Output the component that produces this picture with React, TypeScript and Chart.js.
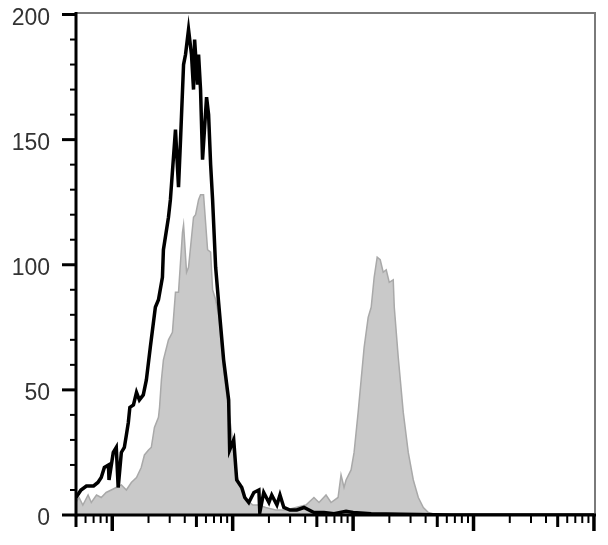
import React, { useEffect, useRef } from "react";
import { Chart, registerables } from "chart.js";

Chart.register(...registerables);

// Unstained / isotype (black outline) histogram: fluorescence intensity vs. count
const blackX = [5.0, 5.5, 6.1, 7.0, 7.6, 8.1, 8.6, 9.3, 9.4, 10.2, 10.8, 11.2, 11.9, 12.6, 13.1, 13.6, 14.0, 15.0, 15.9, 16.8, 18.1, 19.2, 20.7, 22.8, 24.2, 26.1, 26.6, 29.3, 30.4, 33.5, 35.5, 36.9, 39.1, 40.6, 43.0, 45.5, 47.3, 48.3, 51.1, 52.1, 54.1, 56.2, 60.7, 63.1, 65.6, 68.1, 72.2, 76.4, 84.1, 92.6, 94.4, 102, 108, 119, 126, 136, 150, 165, 168, 181, 200, 211, 233, 247, 266, 299, 341, 391, 473, 573, 695, 874, 1000, 1413, 2512, 6561, 104000];
const blackY = [7, 10, 11.6, 11.6, 13, 15, 19, 20, 14, 25, 27, 11, 25, 27, 32, 37, 43, 44, 49, 46, 48, 54, 67, 83, 86, 95, 106, 119, 126, 154, 131, 150, 180, 184, 194, 184, 170, 190, 172, 184, 170, 142, 167, 160, 140, 126, 99, 85, 62, 46, 26, 30, 14, 11, 7, 5, 9, 10, 1, 9, 5, 8, 4, 8, 3, 2, 2, 3, 1, 1, 0.5, 1.5, 1, 0.5, 0.3, 0, 0];

// Stained (gray filled) histogram
const grayX = [5.0, 5.3, 5.7, 6.3, 6.7, 7.4, 8.1, 8.9, 9.8, 10.8, 11.9, 13.1, 14.4, 15.9, 17.4, 18.5, 20.0, 21.1, 22.4, 24.2, 24.7, 25.6, 26.6, 29.3, 31.6, 33.5, 35.5, 38.3, 39.1, 41.4, 43.0, 47.3, 49.2, 52.1, 54.1, 57.3, 61.9, 65.6, 68.1, 72.2, 76.4, 84.1, 92.6, 102, 108, 114, 131, 147, 165, 188, 228, 277, 335, 406, 473, 521, 596, 656, 750, 794, 841, 874, 962, 1019, 1101, 1166, 1235, 1334, 1413, 1496, 1585, 1679, 1778, 1884, 1995, 2154, 2198, 2371, 2610, 2871, 3162, 3481, 3831, 4217, 4920, 104000];
const grayY = [5, 7, 4, 8, 5, 8, 7, 9, 10, 11, 12, 10, 13, 15, 19, 24, 26, 27, 35, 39, 43, 54, 62, 70, 73, 89, 89, 113, 116, 97, 99, 119, 120, 126, 128, 128, 106, 105, 90, 86, 80, 58, 42, 26, 16, 12, 6, 4, 4, 3, 2, 2, 3, 4, 7, 5, 8, 5, 7, 16, 11, 14, 18, 25, 41, 54, 67, 79, 83, 95, 103, 102, 97, 98, 93, 94, 83, 63, 41, 25, 14, 7, 3, 1, 0, 0];

// Axis ticks
const yMajorTicks = [0, 50, 100, 150, 200];
const yTickLabels = ["0", "50", "100", "150", "200"];
const yMinorTicks = [10, 20, 30, 40, 60, 70, 80, 90, 110, 120, 130, 140, 160, 170, 180, 190];
const xMajorTicks = [10, 100, 1000, 10000, 100000];
const xMidTicks = [5, 50, 500, 5000, 50000];
const xMinorTicks = [6, 7, 8, 9, 20, 30, 40, 60, 70, 80, 90, 200, 300, 400, 600, 700, 800, 900, 2000, 3000, 4000, 6000, 7000, 8000, 9000, 20000, 30000, 40000, 60000, 70000, 80000, 90000];
const xMin = 5;
const xMax = 104000;
const yMin = 0;
const yMax = 201;

const axesPlugin = {
  id: "flowAxes",
  afterDraw(chart: any) {
    const { ctx, chartArea: a, scales } = chart;
    const xs = scales.x;
    const ys = scales.y;
    ctx.save();
    // gray frame top & right
    ctx.strokeStyle = "#7a7a7a";
    ctx.lineWidth = 2;
    ctx.beginPath();
    ctx.moveTo(a.left, a.top + 1);
    ctx.lineTo(a.right - 1, a.top + 1);
    ctx.lineTo(a.right - 1, a.bottom);
    ctx.stroke();
    ctx.strokeStyle = "#000";
    ctx.lineCap = "butt";
    // y axis line
    ctx.lineWidth = 3;
    ctx.beginPath();
    ctx.moveTo(a.left, a.top);
    ctx.lineTo(a.left, a.bottom + 1.5);
    ctx.stroke();
    // x axis line
    ctx.beginPath();
    ctx.moveTo(a.left, a.bottom);
    ctx.lineTo(a.right, a.bottom);
    ctx.stroke();
    // y ticks + labels
    ctx.font = "23px 'Liberation Sans', Arial, sans-serif";
    ctx.textAlign = "right";
    ctx.textBaseline = "middle";
    yMajorTicks.forEach((v, i) => {
      const py = ys.getPixelForValue(v);
      ctx.lineWidth = 3;
      ctx.beginPath();
      ctx.moveTo(a.left - 14, py);
      ctx.lineTo(a.left, py);
      ctx.stroke();
      ctx.fillStyle = "#333333";
      ctx.fillText(yTickLabels[i], a.left - 26, py + 4);
    });
    yMinorTicks.forEach((v) => {
      const py = ys.getPixelForValue(v);
      ctx.lineWidth = 2;
      ctx.beginPath();
      ctx.moveTo(a.left - 6, py);
      ctx.lineTo(a.left, py);
      ctx.stroke();
    });
    // x ticks
    const drawX = (vals: number[], len: number, w: number) => {
      vals.forEach((v) => {
        const px = xs.getPixelForValue(v);
        ctx.lineWidth = w;
        ctx.beginPath();
        ctx.moveTo(px, a.bottom);
        ctx.lineTo(px, a.bottom + len);
        ctx.stroke();
      });
    };
    drawX(xMajorTicks, 16, 3.5);
    drawX(xMidTicks, 12, 3);
    drawX(xMinorTicks, 8, 2);
    ctx.restore();
  },
};

export default function App() {
  const ref = useRef<HTMLCanvasElement | null>(null);

  useEffect(() => {
    document.body.style.margin = "0";
    const canvas = ref.current;
    if (!canvas) return;
    const chart = new Chart(canvas, {
      type: "line",
      data: {
        datasets: [
          {
            label: "Control",
            data: blackX.map((x, i) => ({ x, y: blackY[i] })),
            borderColor: "#000000",
            borderWidth: 3.5,
            fill: false,
            pointRadius: 0,
            tension: 0,
            order: 0,
          },
          {
            label: "Stained",
            data: grayX.map((x, i) => ({ x, y: grayY[i] })),
            borderColor: "#a9a9a9",
            backgroundColor: "#c9c9c9",
            borderWidth: 1.5,
            fill: "origin",
            pointRadius: 0,
            tension: 0,
            order: 1,
          },
        ],
      },
      options: {
        animation: false,
        responsive: false,
        devicePixelRatio: 1,
        layout: { padding: { top: 12, right: 12, left: 0, bottom: 0 } },
        plugins: {
          legend: { display: false },
          tooltip: { enabled: false },
        },
        scales: {
          x: {
            type: "logarithmic",
            min: xMin,
            max: xMax,
            grid: { display: false, drawTicks: false },
            border: { display: false },
            ticks: { display: false },
            afterFit: (s: any) => {
              s.height = 30;
            },
          },
          y: {
            type: "linear",
            min: yMin,
            max: yMax,
            grid: { display: false, drawTicks: false },
            border: { display: false },
            ticks: { display: false },
            afterBuildTicks: (s: any) => {
              s.ticks = yMajorTicks.map((v) => ({ value: v }));
            },
            afterFit: (s: any) => {
              s.width = 76;
            },
          },
        },
      },
      plugins: [axesPlugin],
    });
    return () => chart.destroy();
  }, []);

  return (
    <div style={{ width: 608, height: 545, background: "#fff" }}>
      <canvas ref={ref} width={608} height={545} style={{ display: "block" }} />
    </div>
  );
}
